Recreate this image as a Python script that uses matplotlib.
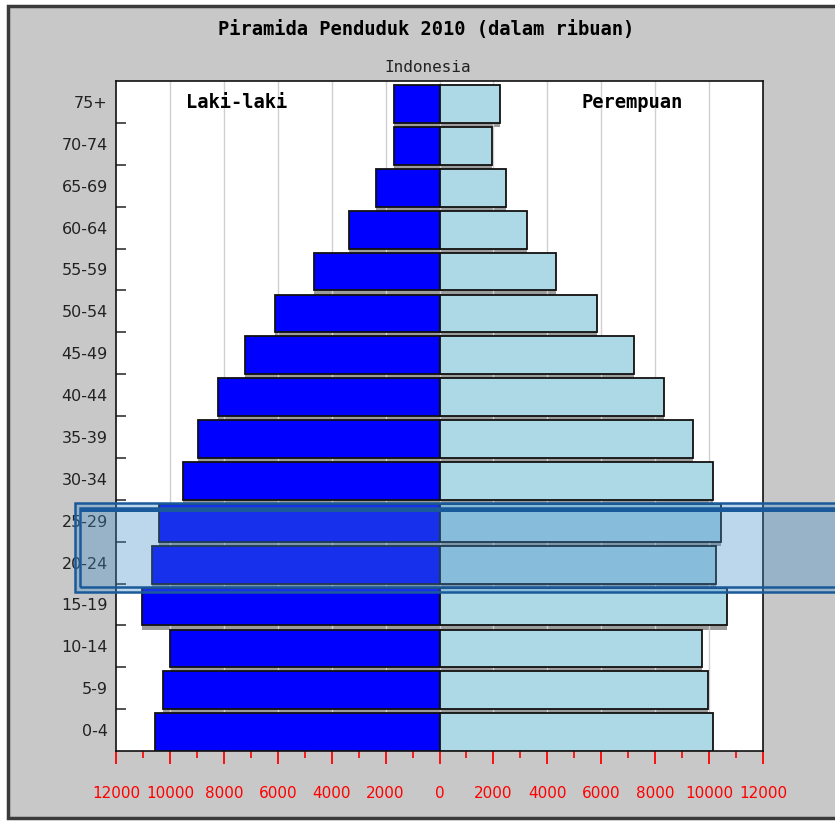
import matplotlib
matplotlib.use('Agg')
import matplotlib.pyplot as plt
import numpy as np
from matplotlib.patches import Rectangle

# age groups from bottom to top, values in thousands
age_groups = ['0-4', '5-9', '10-14', '15-19', '20-24', '25-29', '30-34', '35-39',
              '40-44', '45-49', '50-54', '55-59', '60-64', '65-69', '70-74', '75+']
male = [10550, 10270, 10010, 11020, 10650, 10420, 9530, 8940,
        8230, 7230, 6120, 4670, 3340, 2370, 1700, 1700]
female = [10160, 9960, 9720, 10680, 10270, 10460, 10160, 9420,
          8310, 7200, 5860, 4340, 3260, 2450, 1930, 2230]
x_ticks = [-12000, -10000, -8000, -6000, -4000, -2000, 0, 2000, 4000, 6000, 8000, 10000, 12000]

W, H = 835, 824
fig = plt.figure(figsize=(W / 100, H / 100), dpi=100)
fig.patch.set_facecolor('white')

def px(x0, y0, x1, y1):
    # pixel box -> figure fraction (left, bottom, width, height)
    return (x0 / W, 1 - y1 / H, (x1 - x0) / W, (y1 - y0) / H)

# gray panel with dark frame
l, b, w, h = px(8, 6, 845, 818)
fig.add_artist(Rectangle((l, b), w, h, transform=fig.transFigure,
                         facecolor='#c8c8c8', edgecolor='#3a3a3a', lw=2.5, zorder=-10))

ax = fig.add_axes(px(116, 81, 763, 751))
ax.set_facecolor('white')

y = np.arange(len(age_groups))
bh = 0.9
yc = y - 0.05

# shadow strips under each bar
ax.barh(yc - 0.1, [-m for m in male], height=bh, color='#9c9c9c', edgecolor='none', zorder=1)
ax.barh(yc - 0.1, female, height=bh, color='#9c9c9c', edgecolor='none', zorder=1)

ax.barh(yc, [-m for m in male], height=bh, color='#0000ff', edgecolor='#111111', lw=1.3, zorder=3)
ax.barh(yc, female, height=bh, color='#add8e6', edgecolor='#111111', lw=1.3, zorder=3)

ax.set_xlim(-12000, 12000)
ax.set_ylim(-0.5, len(age_groups) - 0.5)

for xv in x_ticks[1:-1]:
    ax.axvline(xv, color='#d0d0d0', lw=1, zorder=2)

ax.set_xticks(x_ticks)
ax.set_xticklabels([str(abs(v)) for v in x_ticks], color='red', fontsize=11,
                   family='DejaVu Sans')
ax.set_xticks(np.arange(-12000, 12001, 1000), minor=True)
ax.tick_params(axis='x', which='major', colors='red', length=9, width=1.3,
               direction='out', pad=16, labelcolor='red')
ax.tick_params(axis='x', which='minor', colors='red', length=5, width=1.2, direction='out')

ax.set_yticks(y)
ax.set_yticklabels(age_groups, fontsize=11.5, color='#222222')
ax.set_yticks(y[:-1] + 0.5, minor=True)
ax.tick_params(axis='y', which='major', length=0, pad=6)
ax.tick_params(axis='y', which='minor', length=7, width=1.3, direction='in', color='#444444')

for s in ax.spines.values():
    s.set_color('#111111')
    s.set_linewidth(1.2)

fig.text(237 / W, 1 - 102 / H, 'Laki-laki', ha='center', va='center',
         fontsize=13.5, family='DejaVu Sans Mono', fontweight='bold', zorder=5)
fig.text(632 / W, 1 - 102 / H, 'Perempuan', ha='center', va='center',
         fontsize=13.5, family='DejaVu Sans Mono', fontweight='bold', zorder=5)

fig.text(426 / W, 1 - 30 / H, 'Piramida Penduduk 2010 (dalam ribuan)', ha='center',
         va='center', fontsize=13.5, family='DejaVu Sans Mono', fontweight='bold')
fig.text(428 / W, 1 - 68 / H, 'Indonesia', ha='center', va='center',
         fontsize=11.5, family='DejaVu Sans Mono', color='#222222')

# selection highlight over the 20-29 rows
l, b, w, h = px(75, 503, 850, 592)
fig.add_artist(Rectangle((l, b), w, h, transform=fig.transFigure,
                         facecolor=(0.25, 0.54, 0.78, 0.35), edgecolor='#1a5a9a',
                         lw=1.8, zorder=10))
l, b, w, h = px(80, 508, 850, 587)
fig.add_artist(Rectangle((l, b), w, h, transform=fig.transFigure,
                         facecolor='none', edgecolor='#1a5a9a', lw=1.8, zorder=10))
l, b, w, h = px(80, 508, 850, 512)
fig.add_artist(Rectangle((l, b), w, h, transform=fig.transFigure,
                         facecolor='#1a5a9a', edgecolor='none', zorder=10))

fig.savefig('out.png', dpi=100)
